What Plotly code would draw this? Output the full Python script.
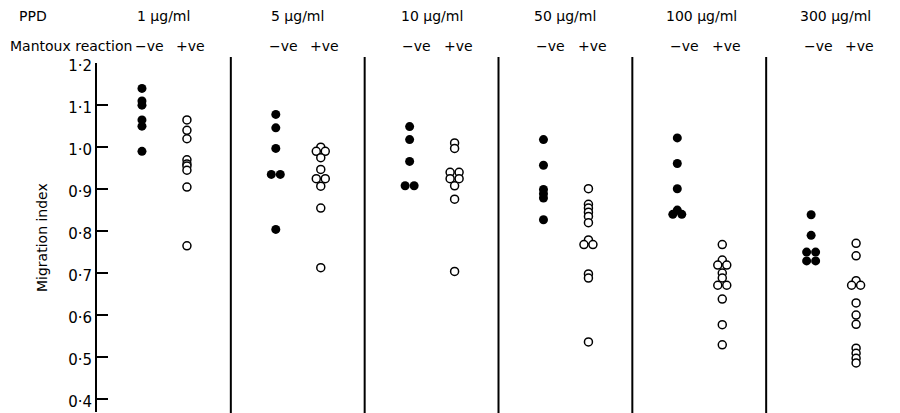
import plotly.graph_objects as go
from collections import Counter

# ---- data ----
conc_labels = ["1 μg/ml", "5 μg/ml", "10 μg/ml", "50 μg/ml", "100 μg/ml", "300 μg/ml"]

neg_1 = [1.14, 1.11, 1.10, 1.065, 1.05, 0.99]
pos_1 = [1.065, 1.04, 1.02, 0.97, 0.96, 0.955, 0.945, 0.905, 0.765]

neg_5 = [1.078, 1.046, 0.997, 0.935, 0.935, 0.804]
pos_5 = [1.0, 0.99, 0.99, 0.975, 0.947, 0.925, 0.925, 0.907, 0.855, 0.713]

neg_10 = [1.049, 1.018, 0.966, 0.908, 0.908]
pos_10 = [1.01, 0.997, 0.94, 0.94, 0.925, 0.925, 0.908, 0.876, 0.704]

neg_50 = [1.018, 0.957, 0.899, 0.889, 0.879, 0.827]
pos_50 = [0.901, 0.864, 0.855, 0.845, 0.835, 0.82, 0.779, 0.768, 0.768, 0.698, 0.688, 0.536]

neg_100 = [1.022, 0.961, 0.901, 0.85, 0.84, 0.84]
pos_100 = [0.768, 0.731, 0.719, 0.719, 0.70, 0.688, 0.671, 0.671, 0.638, 0.577, 0.529]

neg_300 = [0.839, 0.79, 0.75, 0.75, 0.729, 0.729]
pos_300 = [0.771, 0.741, 0.682, 0.671, 0.671, 0.629, 0.60, 0.578, 0.521, 0.509, 0.497, 0.486]

neg_groups = [neg_1, neg_5, neg_10, neg_50, neg_100, neg_300]
pos_groups = [pos_1, pos_5, pos_10, pos_50, pos_100, pos_300]

tick_vals = [0.4, 0.5, 0.6, 0.7, 0.8, 0.9, 1.0, 1.1, 1.2]
tick_text = ["0·4", "0·5", "0·6", "0·7", "0·8", "0·9", "1·0", "1·1", "1·2"]

# ---- layout geometry ----
W, H = 900, 413
ML, MR, MT, MB = 97, 0, 63, 1
PW = W - ML - MR
PH = H - MT - MB
N = len(conc_labels)
UNIT_PER_PX = N / PW
Y_TOP = 1.2
PX_PER_UNIT = 420.0
Y_BOTTOM = Y_TOP - PH / PX_PER_UNIT
FONT = "DejaVu Sans"


def swarm(vals, center, spacing_px=9):
    counts = Counter(vals)
    seen = {}
    xs = []
    for v in vals:
        n = counts[v]
        k = seen.get(v, 0)
        seen[v] = k + 1
        xs.append(center + (k - (n - 1) / 2) * spacing_px * UNIT_PER_PX)
    return xs


fig = go.Figure()
for i in range(N):
    fig.add_trace(go.Scatter(
        x=swarm(neg_groups[i], i + 0.336), y=neg_groups[i], mode="markers",
        marker=dict(size=9, color="black", line=dict(width=0)),
        showlegend=False, hoverinfo="y"))
    fig.add_trace(go.Scatter(
        x=swarm(pos_groups[i], i + 0.672), y=pos_groups[i], mode="markers",
        marker=dict(size=8, color="white", line=dict(width=1.5, color="black")),
        showlegend=False, hoverinfo="y"))

shapes = []
for i in range(1, N):
    shapes.append(dict(type="line", xref="x", yref="paper", x0=i, x1=i,
                       y0=-(MB + 2) / PH, y1=1 + 6 / PH,
                       line=dict(color="black", width=2)))

def py(px_from_top):
    return (H - MB - px_from_top) / PH

def pxx(px):
    return (px - ML) / PW

annotations = []
annotations.append(dict(text="PPD", xref="paper", yref="paper", x=pxx(17), y=py(16),
                        xanchor="left", yanchor="middle", showarrow=False,
                        font=dict(size=14, color="black", family=FONT)))
annotations.append(dict(text="Mantoux reaction", xref="paper", yref="paper", x=pxx(8), y=py(46),
                        xanchor="left", yanchor="middle", showarrow=False,
                        font=dict(size=14, color="black", family=FONT)))
for i, lab in enumerate(conc_labels):
    annotations.append(dict(text=lab, xref="x", yref="paper", x=i + 0.5 + (0.02 if i >= 4 else 0), y=py(16),
                            xanchor="center", yanchor="middle", showarrow=False,
                            font=dict(size=14, color="black", family=FONT)))
    annotations.append(dict(text="−ve", xref="x", yref="paper", x=i + 0.39, y=py(46),
                            xanchor="center", yanchor="middle", showarrow=False,
                            font=dict(size=14, color="black", family=FONT)))
    annotations.append(dict(text="+ve", xref="x", yref="paper", x=i + 0.70, y=py(46),
                            xanchor="center", yanchor="middle", showarrow=False,
                            font=dict(size=14, color="black", family=FONT)))
annotations.append(dict(text="Migration index", xref="paper", yref="paper", x=pxx(42), y=py(238),
                        xanchor="center", yanchor="middle", textangle=-90, showarrow=False,
                        font=dict(size=14, color="black", family=FONT)))

fig.update_layout(
    width=W, height=H,
    margin=dict(l=ML, r=MR, t=MT, b=MB, autoexpand=False),
    paper_bgcolor="white", plot_bgcolor="white",
    xaxis=dict(range=[0, N], visible=False, fixedrange=True),
    yaxis=dict(range=[Y_BOTTOM, Y_TOP + 0.0005], tickvals=tick_vals, ticktext=tick_text,
               showline=True, linecolor="black", linewidth=2,
               ticks="inside", ticklen=11, tickwidth=2, tickcolor="black",
               showgrid=False, zeroline=False, automargin=False,
               ticklabeloverflow="allow", ticklabelshift=3,
               tickfont=dict(size=15, color="black", family=FONT)),
    shapes=shapes, annotations=annotations,
    showlegend=False,
)

fig.write_html("out.html", config={"displayModeBar": False},
               post_script="document.body.style.margin='0';document.body.style.overflow='hidden';")
